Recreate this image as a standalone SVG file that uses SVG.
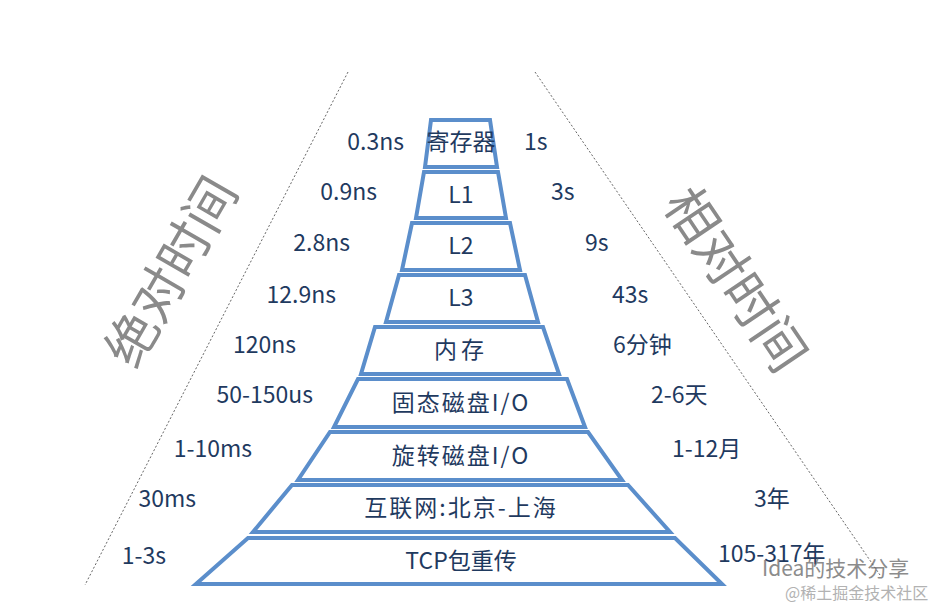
<svg xmlns="http://www.w3.org/2000/svg" width="951" height="606" viewBox="0 0 951 606">
<style>
.t{fill:none;stroke:#5b8ecb;stroke-width:4;stroke-linejoin:miter}
.n{font-family:"Noto Sans CJK SC",sans-serif;font-size:23px;fill:#1f3a5f;text-anchor:middle}
.l{font-family:"Noto Sans CJK SC",sans-serif;font-size:23px;fill:#1f3a5f}
.big{font-family:"Noto Sans CJK SC",sans-serif;font-size:52px;fill:#8a8a8a;text-anchor:middle}
.d{stroke:#666;stroke-width:1;stroke-dasharray:2 2;fill:none}
</style>
<rect width="951" height="606" fill="#fff"/>
<g id="connectors">
<line class="d" x1="348" y1="72" x2="85" y2="585"/>
<line class="d" x1="535" y1="72" x2="880" y2="575"/>
</g>
<g id="n1"><polygon class="t" points="431,120 490,120 497,167 425,167"/><text class="n" x="461" y="150" font-size="18">寄存器</text></g>
<g id="n2"><polygon class="t" points="424,172 498,172 506,218 416,218"/><text class="n" x="461" y="203">L1</text></g>
<g id="n3"><polygon class="t" points="412,223 510,223 520,270 402,270"/><text class="n" x="461" y="254">L2</text></g>
<g id="n4"><polygon class="t" points="399,275 525,275 538,322 386,322"/><text class="n" x="461" y="306">L3</text></g>
<g id="n5"><polygon class="t" points="375,327 543,327 559,374 361,374"/><text class="n" x="461" y="358" letter-spacing="4">内存</text></g>
<g id="n6"><polygon class="t" points="358,379 567,379 585,427 334,427"/><text class="n" x="461" y="411" letter-spacing="2">固态磁盘I/O</text></g>
<g id="n7"><polygon class="t" points="330,432 588,432 622,480 298,480"/><text class="n" x="461" y="464" letter-spacing="2">旋转磁盘I/O</text></g>
<g id="n8"><polygon class="t" points="292,485 628,485 670,532 253,532"/><text class="n" x="461" y="516" letter-spacing="2">互联网:北京-上海</text></g>
<g id="n9"><polygon class="t" points="248,538 675,538 722,584 196,584"/><text class="n" x="461" y="569">TCP包重传</text></g>
<g id="left-labels" class="l" text-anchor="end">
<text x="404" y="150">0.3ns</text>
<text x="377" y="200">0.9ns</text>
<text x="350" y="251">2.8ns</text>
<text x="336" y="303">12.9ns</text>
<text x="296" y="353">120ns</text>
<text x="313" y="403">50-150us</text>
<text x="252" y="457">1-10ms</text>
<text x="196" y="507">30ms</text>
<text x="166" y="564">1-3s</text>
</g>
<g id="right-labels" class="l">
<text x="524" y="150">1s</text>
<text x="551" y="200">3s</text>
<text x="585" y="251">9s</text>
<text x="612" y="303">43s</text>
<text x="613" y="353">6分钟</text>
<text x="651" y="403">2-6天</text>
<text x="672" y="457">1-12月</text>
<text x="754" y="507">3年</text>
<text x="718" y="562">105-317年</text>
</g>
<text class="big" transform="translate(172,272) rotate(-60)" y="18">绝对时间</text>
<text class="big" transform="translate(735,280) rotate(56)" y="18">相对时间</text>
<g id="watermark" font-family="Noto Sans CJK SC,sans-serif" fill="#666" opacity="0.75">
<text x="762" y="576" font-size="21">Idea的技术分享</text>
<text x="785" y="599" font-size="16" fill="#999">@稀土掘金技术社区</text>
</g>
</svg>
